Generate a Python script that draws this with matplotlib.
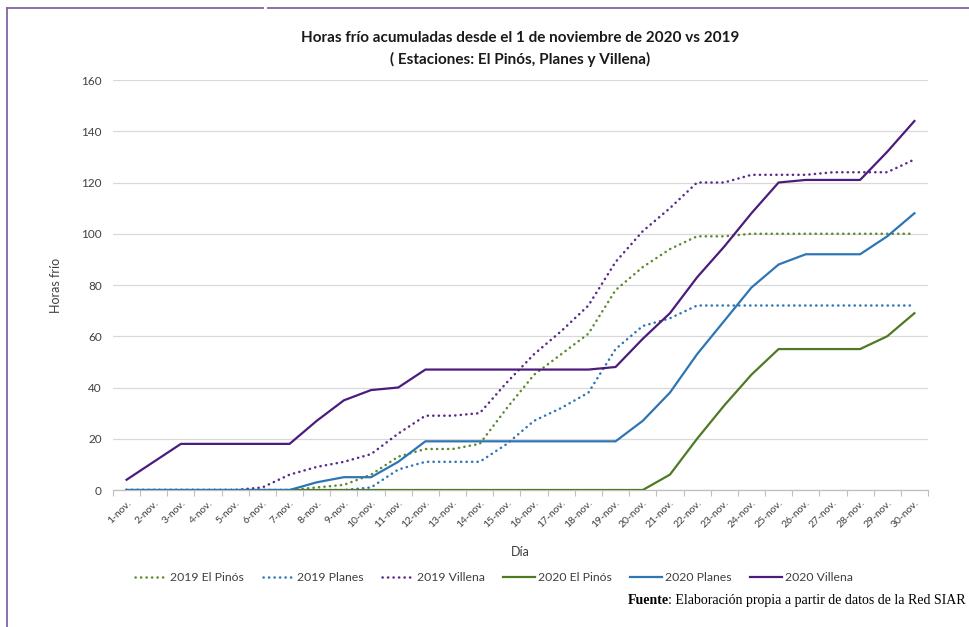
import matplotlib
matplotlib.use('Agg')
import matplotlib.pyplot as plt
from matplotlib.lines import Line2D
import numpy as np

# %% datos (horas frio acumuladas, 1-30 nov)
dias = ['{}-nov.'.format(d) for d in range(1, 31)]

v2019_pinos = [0, 0, 0, 0, 0, 0, 0, 1, 2, 6, 13, 16, 16, 18, 32, 45, 53, 61, 78, 87,
               94, 99, 99, 100, 100, 100, 100, 100, 100, 100]
v2019_planes = [0, 0, 0, 0, 0, 0, 0, 0, 0, 1, 8, 11, 11, 11, 18, 27, 32, 38, 55, 64,
                67, 72, 72, 72, 72, 72, 72, 72, 72, 72]
v2019_villena = [0, 0, 0, 0, 0, 1, 6, 9, 11, 14, 22, 29, 29, 30, 42, 53, 62, 72, 89, 101,
                 110, 120, 120, 123, 123, 123, 124, 124, 124, 129]
v2020_pinos = [0, 0, 0, 0, 0, 0, 0, 0, 0, 0, 0, 0, 0, 0, 0, 0, 0, 0, 0, 0,
               6, 20, 33, 45, 55, 55, 55, 55, 60, 69]
v2020_planes = [0, 0, 0, 0, 0, 0, 0, 3, 5, 5, 11, 19, 19, 19, 19, 19, 19, 19, 19, 27,
                38, 53, 66, 79, 88, 92, 92, 92, 99, 108]
v2020_villena = [4, 11, 18, 18, 18, 18, 18, 27, 35, 39, 40, 47, 47, 47, 47, 47, 47, 47, 48, 59,
                 69, 83, 95, 108, 120, 121, 121, 121, 132, 144]

series = [('2019 El Pinós', v2019_pinos, '#5E8A2E', 'dot'),
          ('2019 Planes', v2019_planes, '#2E75B6', 'dot'),
          ('2019 Villena', v2019_villena, '#5A2A8A', 'dot'),
          ('2020 El Pinós', v2020_pinos, '#4E7A23', 'solid'),
          ('2020 Planes', v2020_planes, '#2E75B6', 'solid'),
          ('2020 Villena', v2020_villena, '#4B1C7D', 'solid')]

# %%
plt.rcParams['font.family'] = ['Lato', 'DejaVu Sans']
fig = plt.figure(figsize=(9.69, 6.27), dpi=100)
ax = fig.add_axes([0.1166, 0.2185, 0.8411, 0.6539])

x = np.arange(1, 31)
handles = []
for nombre, vals, color, estilo in series:
    if estilo == 'dot':
        ln, = ax.plot(x, vals, color=color, lw=1.8, linestyle=(0, (0.1, 2.1)),
                      dash_capstyle='round', label=nombre, zorder=3)
    else:
        ln, = ax.plot(x, vals, color=color, lw=1.6, label=nombre, zorder=3)
    handles.append(ln)

ax.set_xlim(0.5, 30.5)
ax.set_ylim(0, 160)
ax.set_yticks(np.arange(0, 161, 20))
ax.yaxis.grid(True, color='#D9D9D9', lw=0.9)
ax.set_axisbelow(True)
for s in ['top', 'right', 'left']:
    ax.spines[s].set_visible(False)
ax.spines['bottom'].set_color('#BFBFBF')
ax.spines['bottom'].set_linewidth(0.9)

ax.set_xticks(x)
ax.set_xticklabels(dias, rotation=45, ha='right', rotation_mode='anchor',
                   fontsize=7.5, color='#404040')
ax.set_xticks(np.arange(0.5, 31, 1), minor=True)
ax.tick_params(axis='x', which='major', length=0, pad=6)
ax.tick_params(axis='x', which='minor', length=4, color='#BFBFBF', width=0.8)
ax.tick_params(axis='y', length=0, labelsize=8.5, labelcolor='#404040', pad=8)

ax.set_ylabel('Horas frío', fontsize=9, color='#404040', labelpad=14)
fig.text(0.537, 0.12, 'Día', fontsize=9, color='#404040', ha='center', va='center')

fig.text(0.537, 0.94, 'Horas frío acumuladas desde el 1 de noviembre de 2020 vs 2019',
         fontsize=11, fontweight='bold', ha='center', va='center', color='#1a1a1a')
fig.text(0.537, 0.905, '( Estaciones: El Pinós, Planes y Villena)',
         fontsize=11, fontweight='bold', ha='center', va='center', color='#1a1a1a')

fig.legend(handles=handles, loc='center', bbox_to_anchor=(0.51, 0.079), ncol=6,
           frameon=False, fontsize=8.8, handlelength=2.6, handletextpad=0.25,
           columnspacing=1.5, labelcolor='#404040')

t = fig.text(0.997, 0.032, ': Elaboración propia a partir de datos de la Red SIAR',
             fontsize=10, family='Liberation Serif', ha='right', va='bottom')
fig.text(0, 0, 'Fuente', fontsize=10, family='Liberation Serif', fontweight='bold',
         ha='right', va='bottom', transform=t.get_transform())
fig.canvas.draw()
bb = t.get_window_extent()
fig.texts[-1].set_position(fig.transFigure.inverted().transform((bb.x0, bb.y0)))

# marco
borde = '#8064A2'
fig.add_artist(Line2D([7 / 969, 7 / 969], [0, 1 - 8 / 627], color=borde, lw=1.3,
                      transform=fig.transFigure))
fig.add_artist(Line2D([7 / 969, 263 / 969], [1 - 8 / 627, 1 - 8 / 627], color=borde, lw=1.3,
                      transform=fig.transFigure))
fig.add_artist(Line2D([268 / 969, 1], [1 - 8 / 627, 1 - 8 / 627], color=borde, lw=1.3,
                      transform=fig.transFigure))

fig.savefig('out.png', dpi=100)
